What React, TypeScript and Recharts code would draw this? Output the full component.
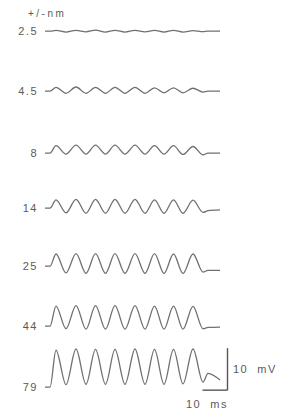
import React from "react";
import { LineChart, Line, XAxis, YAxis, ReferenceLine } from "recharts";

// sample times (ms) at the start, peaks and troughs of each trace
const timeMs = [0, 2, 4.4, 8.4, 12.4, 16.4, 20.2, 24.2, 28, 32, 36, 40, 43.8, 47.6, 51.4, 55.2, 59.2, 63.2, 65.2, 70];

// stimulus amplitude labels (+/- nm)
const amplitudes = ["2.5", "4.5", "8", "14", "25", "44", "79"];

// receptor potential (mV, relative to resting level) read at timeMs
const v2_5 = [0, 0, 0.2, -0.2, 0.2, -0.15, 0.25, -0.2, 0.2, -0.2, 0.2, -0.15, 0.2, -0.2, 0.2, -0.2, 0.15, -0.1, 0, 0];
const v4_5 = [0, 0, 0.9, -0.5, 1.0, -0.5, 0.9, -0.5, 0.9, -0.5, 0.9, -0.5, 0.8, -0.4, 0.8, -0.4, 0.7, -0.2, 0, 0];
const v8 = [0, 0, 1.8, -0.2, 1.9, -0.2, 1.9, -0.2, 1.9, -0.2, 1.9, -0.2, 1.8, -0.2, 1.8, -0.3, 1.6, -0.4, 0, 0];
const v14 = [0, 0, 2.0, -1.1, 2.1, -1.2, 2.1, -1.2, 2.1, -1.2, 2.1, -1.2, 2.0, -1.2, 2.0, -1.2, 1.9, -1.0, -0.6, -0.4];
const v25 = [0, 0, 2.9, -1.6, 3.0, -1.7, 3.0, -1.7, 3.0, -1.7, 3.0, -1.7, 3.0, -1.7, 2.9, -1.7, 2.9, -1.4, -1.0, -1.0];
const v44 = [0, 0, 4.8, -0.6, 4.9, -0.7, 4.9, -0.7, 4.9, -0.7, 4.9, -0.7, 4.8, -0.7, 4.8, -0.7, 4.7, -0.6, -0.3, -0.2];
const v79 = [0, 0, 8.8, 0.6, 9.1, 0.7, 9.0, 0.7, 9.0, 0.7, 9.1, 0.7, 9.0, 0.7, 9.0, 0.8, 9.1, 1.2, 3.3, 1.7];

const traces = [v2_5, v4_5, v8, v14, v25, v44, v79];

// layout: resting-level y position of each trace (px)
const restY = [31, 91, 153, 208, 266, 326, 387];
const CHART_W = 190; // 76 ms -> 2.5 px/ms
const CHART_H = 63; // 15 mV -> 4.2 px/mV
const Y_MIN = -4;
const Y_MAX = 11;
const ZERO_OFFSET = (Y_MAX / (Y_MAX - Y_MIN)) * CHART_H;

const font = "'Liberation Sans', Arial, Helvetica, sans-serif";
const ink = "#5a5a5a";

function Trace({ values, last }: { values: number[]; last: boolean }) {
  const data = timeMs.map((t, i) => ({ t, v: values[i] }));
  return (
    <LineChart width={CHART_W} height={CHART_H} data={data} margin={{ top: 0, right: 0, bottom: 0, left: 0 }}>
      <XAxis dataKey="t" type="number" domain={[0, 76]} hide />
      <YAxis type="number" domain={[Y_MIN, Y_MAX]} hide />
      <Line
        type="monotone"
        dataKey="v"
        stroke="#707070"
        strokeWidth={1.3}
        dot={false}
        isAnimationActive={false}
      />
      {last && (
        <ReferenceLine
          segment={[{ x: 73, y: -0.7 }, { x: 73, y: 9.3 }]}
          stroke="#555"
          strokeWidth={1.4}
        />
      )}
      {last && (
        <ReferenceLine
          segment={[{ x: 63, y: -0.7 }, { x: 73, y: -0.7 }]}
          stroke="#555"
          strokeWidth={1.4}
        />
      )}
    </LineChart>
  );
}

export default function App() {
  return (
    <div
      style={{
        position: "absolute",
        left: 0,
        top: 0,
        width: 281,
        height: 412,
        background: "#fff",
        fontFamily: font,
        color: ink,
      }}
    >
      <div style={{ position: "absolute", left: 28, top: 7, fontSize: 10, letterSpacing: 2.5, lineHeight: "14px" }}>
        +/-nm
      </div>
      {traces.map((values, i) => (
        <React.Fragment key={amplitudes[i]}>
          <div
            style={{
              position: "absolute",
              left: 0,
              width: 38,
              top: restY[i] - 7,
              textAlign: "right",
              fontSize: 11,
              letterSpacing: 1.5,
              lineHeight: "14px",
            }}
          >
            {amplitudes[i]}
          </div>
          <div style={{ position: "absolute", left: 45, top: restY[i] - ZERO_OFFSET }}>
            <Trace values={values} last={i === traces.length - 1} />
          </div>
        </React.Fragment>
      ))}
      <div style={{ position: "absolute", left: 233, top: 362, fontSize: 11, letterSpacing: 1.5, lineHeight: "14px", whiteSpace: "nowrap" }}>
        10&nbsp;&nbsp;mV
      </div>
      <div style={{ position: "absolute", left: 186, top: 397, fontSize: 11, letterSpacing: 1.5, lineHeight: "14px", whiteSpace: "nowrap" }}>
        10&nbsp;&nbsp;ms
      </div>
    </div>
  );
}
